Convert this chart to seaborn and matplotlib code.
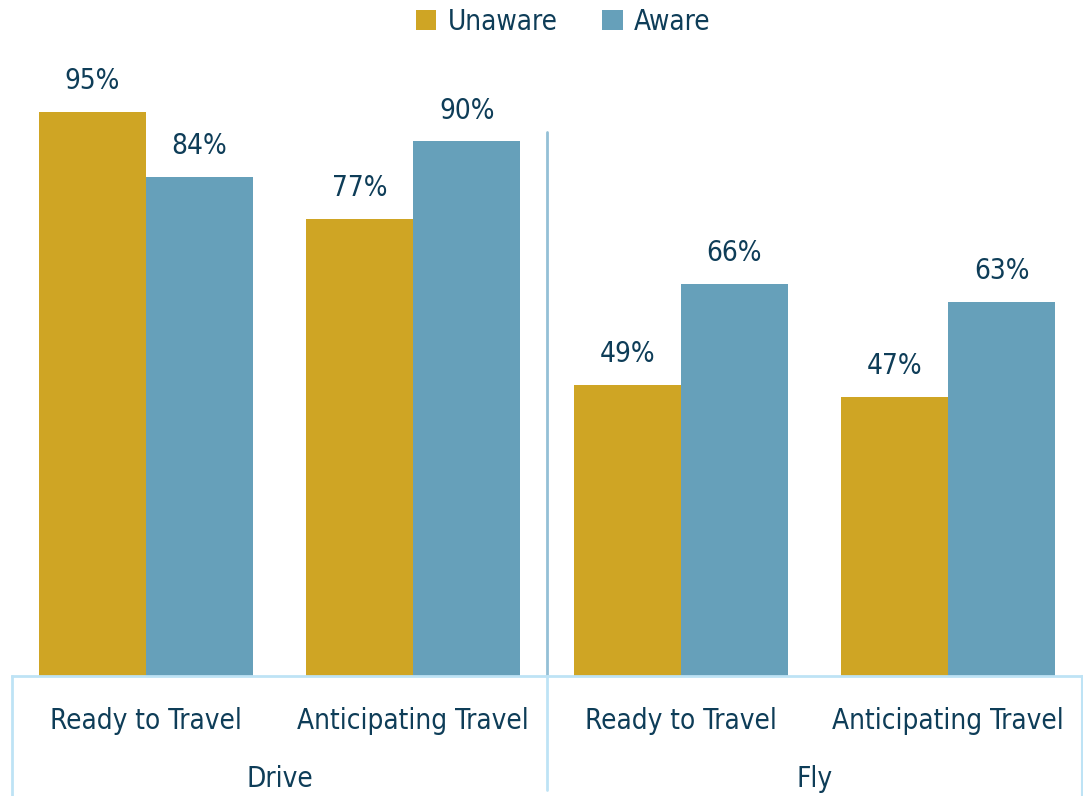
import matplotlib
matplotlib.use("Agg")
import matplotlib.pyplot as plt
import seaborn as sns
import pandas as pd

categories = ["Ready to Travel", "Anticipating Travel", "Ready to Travel ", "Anticipating Travel "]
tick_labels = ["Ready to Travel", "Anticipating Travel", "Ready to Travel", "Anticipating Travel"]
groups = ["Drive", "Fly"]
series = ["Unaware", "Aware"]
unaware = [95, 77, 49, 47]
aware = [84, 90, 66, 63]

GOLD = "#CFA524"
BLUE = "#66A0BA"
NAVY = "#0E3D58"
LINE = "#BEE3F5"
SEP = "#94C0D6"

sns.set_theme(style="white")
plt.rcParams["font.family"] = ["DejaVu Sans"]
plt.rcParams["font.stretch"] = "condensed"

df = pd.DataFrame({
    "category": categories * 2,
    "status": [series[0]] * 4 + [series[1]] * 4,
    "value": unaware + aware,
})

W, H = 1083, 796
fig = plt.figure(figsize=(W / 100, H / 100), dpi=100)
ax = fig.add_axes([12 / W, (H - 676) / H, 1070 / W, 594 / H])

sns.barplot(data=df, x="category", y="value", hue="status", order=categories,
            hue_order=series, palette=[GOLD, BLUE], width=0.8, saturation=1,
            linewidth=0, ax=ax)

ax.set_xlim(-0.5, 3.5)
ax.set_ylim(0, 100)
ax.set_xlabel("")
ax.set_ylabel("")
ax.set_yticks([])
ax.set_xticks(range(4))
ax.set_xticklabels(tick_labels, fontsize=20, color=NAVY)
ax.tick_params(axis="x", length=0, pad=22)

for s in ["top", "right", "left"]:
    ax.spines[s].set_visible(False)
ax.spines["bottom"].set_color(LINE)
ax.spines["bottom"].set_linewidth(2)

for cont in ax.containers:
    ax.bar_label(cont, fmt="%.0f%%", padding=12, fontsize=20, color=NAVY)

# frame lines below the axis and the Drive / Fly divider
below = -120 / 594
ax.plot([0, 0], [0, below], transform=ax.transAxes, color=LINE, lw=2, clip_on=False)
ax.plot([1, 1], [0, below], transform=ax.transAxes, color=LINE, lw=1.5, clip_on=False)
top_sep = (676 - 132) / 594
ax.plot([0.5, 0.5], [0, top_sep], transform=ax.transAxes, color=SEP, lw=2, clip_on=False)
ax.plot([0.5, 0.5], [0, below + 0.01], transform=ax.transAxes, color=LINE, lw=2, clip_on=False)

for i, g in enumerate(groups):
    ax.text(0.5 + 2 * i, -103 / 594, g, transform=ax.get_xaxis_transform(),
            ha="center", va="center", fontsize=20, color=NAVY)

leg = ax.legend(loc="center", bbox_to_anchor=(0.515, (676 - 22) / 594), ncol=2,
                frameon=False, fontsize=20, handlelength=0.75, handleheight=0.75,
                handletextpad=0.4, columnspacing=1.6, borderaxespad=0)
for t in leg.get_texts():
    t.set_color(NAVY)

fig.savefig("out.png", dpi=100)
